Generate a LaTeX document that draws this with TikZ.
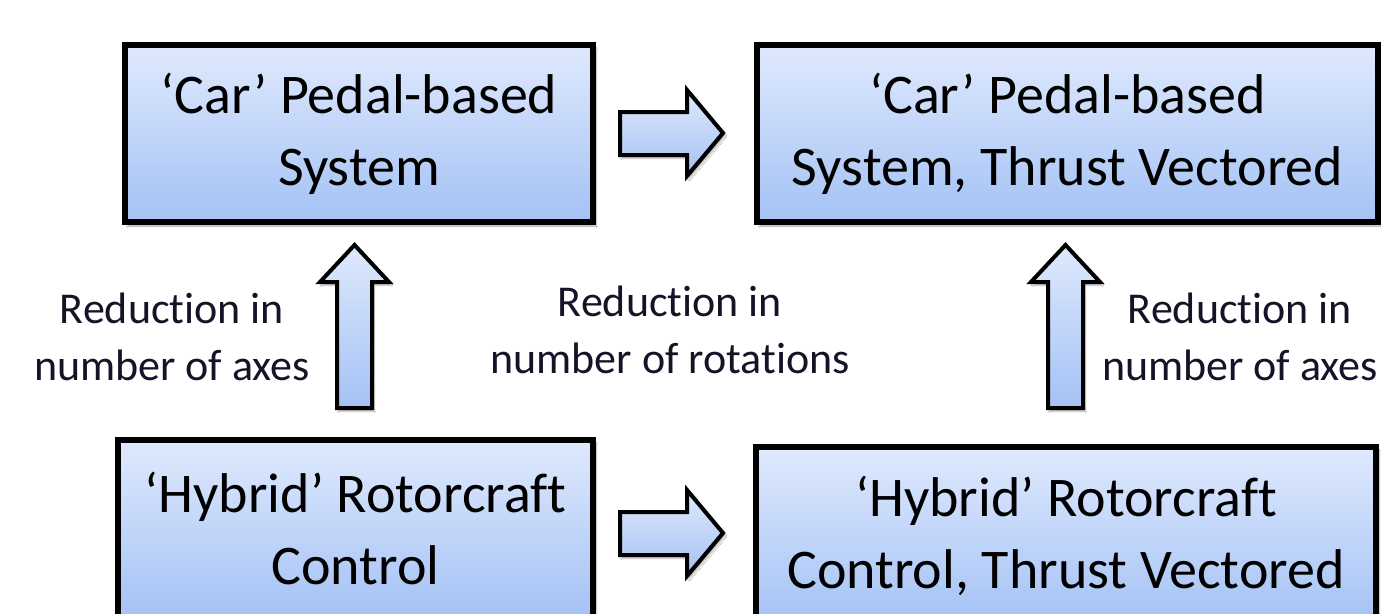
\documentclass[tikz,border=0pt]{standalone}
\usepackage{fontspec}
\setmainfont{Carlito}[Ligatures=NoCommon]
\usetikzlibrary{shadows.blur}
\definecolor{boxtop}{HTML}{DFE9FD}
\definecolor{boxbot}{HTML}{A4C2F5}
\definecolor{labtxt}{HTML}{141428}
\tikzset{
  blockbox/.style={draw=black, line width=6pt, rectangle, top color=boxtop, bottom color=boxbot,
    align=center, font=\fontsize{56}{72}\selectfont, inner sep=0pt,
    blur shadow={shadow xshift=3pt, shadow yshift=-4pt, shadow opacity=35, shadow blur steps=6}},
  blockarrow/.style={draw=black, line width=4pt, line join=miter, top color=boxtop, bottom color=boxbot,
    blur shadow={shadow xshift=2pt, shadow yshift=-3pt, shadow opacity=35, shadow blur steps=5}},
  lab/.style={align=center, text=labtxt, font=\fontsize{44}{57}\selectfont, inner sep=0pt}
}
\begin{document}
\begin{tikzpicture}[x=1pt,y=-1pt]
\useasboundingbox (0,0) rectangle (1381,613);
\clip (0,0) rectangle (1381,613);
\fill[white] (0,0) rectangle (1381,613);
\node[blockbox, minimum width=468pt, minimum height=177pt] (tl) at (359,133.5) {‘Car’ Pedal-based\\System};
\node[blockbox, minimum width=621pt, minimum height=177pt] (tr) at (1067.5,133.5) {‘Car’ Pedal-based\\System, Thrust Vectored};
\node[blockbox, minimum width=475pt, minimum height=178pt] (bl) at (355.5,529) {‘Hybrid’ Rotorcraft\\Control};
\node[blockbox, minimum width=620pt, minimum height=178pt] (br) at (1066,536) {‘Hybrid’ Rotorcraft\\Control, Thrust Vectored};
% block arrows
\draw[blockarrow] (620,112) -- (687,112) -- (687,90) -- (723,133) -- (687,176) -- (687,155) -- (620,155) -- cycle;
\draw[blockarrow] (620,512) -- (687,512) -- (687,490) -- (723,533) -- (687,576) -- (687,555) -- (620,555) -- cycle;
\draw[blockarrow] (337,408) -- (337,282) -- (320,282) -- (354.5,245) -- (389,282) -- (372,282) -- (372,408) -- cycle;
\draw[blockarrow] (1048,408) -- (1048,282) -- (1031,282) -- (1065.5,245) -- (1100,282) -- (1083,282) -- (1083,408) -- cycle;
\node[lab] (l1) at (172,337) {Reduction in\\number of axes};
\node[lab] (l2) at (670,330) {Reduction in\\number of rotations};
\node[lab] (l3) at (1240,337) {Reduction in\\number of axes};
\end{tikzpicture}
\end{document}
